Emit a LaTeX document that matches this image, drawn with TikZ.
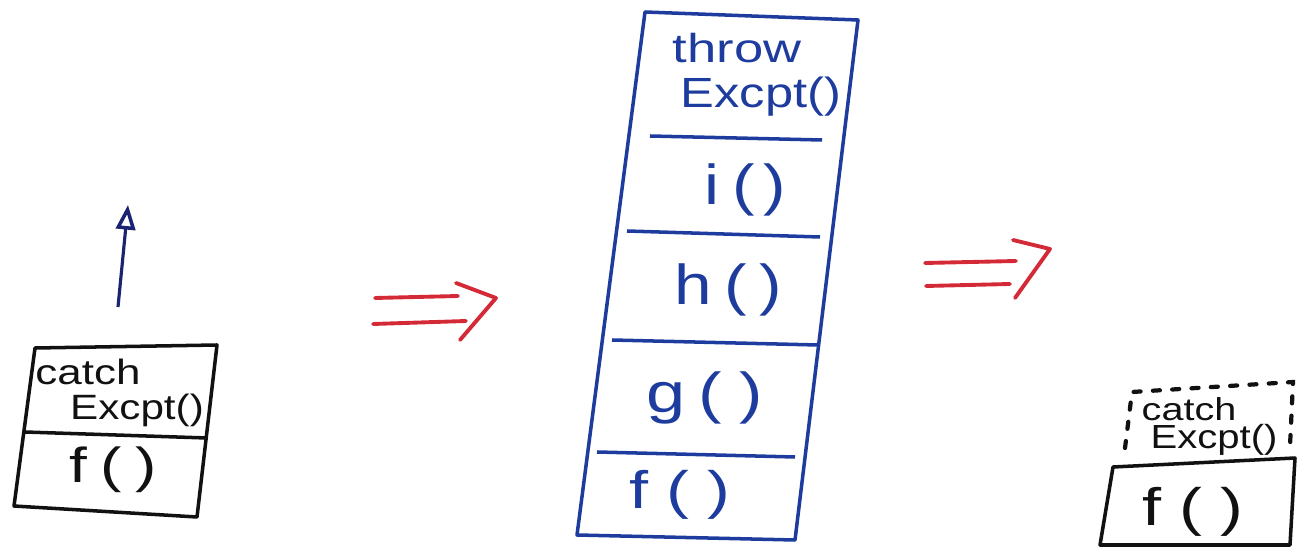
\documentclass[tikz,border=0pt]{standalone}
\usepackage{fontspec}
\setmainfont{Liberation Sans}
\usetikzlibrary{arrows.meta}
\definecolor{inkblue}{HTML}{1E3C9E}
\definecolor{inknavy}{HTML}{1B2470}
\definecolor{inkred}{HTML}{D42A38}
\definecolor{inkblack}{HTML}{111111}
\newcommand{\hwide}[2]{\scalebox{#1}[1]{#2}}
\tikzset{
  box/.style={line width=1pt, line join=round},
  txt/.style={inner sep=0pt},
  redarr/.style={inkred, line width=1.1pt, line cap=round, line join=round},
  upflow/.style={inknavy, line width=0.9pt, -{Triangle[open, length=7pt, width=5.5pt, line width=1pt]}},
  dots/.style={inkblack, line width=1.2pt, dash pattern=on 2pt off 3.5pt, line cap=round}
}
\begin{document}
\begin{tikzpicture}[x=0.01cm, y=-0.01cm]
\useasboundingbox (0,0) rectangle (1297,549);

% ---------- left: catch frame on f() ----------
\draw[box, inkblack] (35,348) -- (217,345) -- (197,517) -- (14,506) -- cycle;
\draw[box, inkblack] (25,432) -- (207,438);
\node[txt, inkblack, font=\fontsize{10}{12}\selectfont] (lcatch) at (88,372) {\hwide{1.25}{catch}};
\node[txt, inkblack, font=\fontsize{10}{12}\selectfont] (lexc) at (137,410) {\hwide{1.2}{Excpt()}};
\node[txt, inkblack, font=\fontsize{14}{16}\selectfont] (lf) at (113,470) {\hwide{1.3}{f\kern3pt(\kern3pt)}};
\coordinate (upstart) at (118,307);
\coordinate (upend) at (128,205);
\draw[upflow] (upstart) -- (upend);

% ---------- first red arrow ----------
\coordinate (a1u0) at (375,298); \coordinate (a1u1) at (458,296);
\coordinate (a1l0) at (373,324); \coordinate (a1l1) at (466,321);
\coordinate (a1t) at (456,283); \coordinate (a1p) at (496,298); \coordinate (a1b) at (460,340);
\draw[redarr] (a1u0) -- (a1u1);
\draw[redarr] (a1l0) -- (a1l1);
\draw[redarr] (a1t) -- (a1p) -- (a1b);

% ---------- middle: full stack ----------
\draw[box, inkblue] (645,12) -- (858,20) -- (795,540) -- (577,535) -- cycle;
\draw[box, inkblue] (650,136) -- (822,140);
\draw[box, inkblue] (627,231) -- (820,237);
\draw[box, inkblue] (612,340) -- (818,345);
\draw[box, inkblue] (597,452) -- (795,457);
\node[txt, inkblue, font=\fontsize{11.5}{14}\selectfont] (mthrow) at (737,48) {\hwide{1.3}{throw}};
\node[txt, inkblue, font=\fontsize{12}{14}\selectfont] (mexc) at (761,97) {\hwide{1.2}{Excpt()}};
\node[txt, inkblue, font=\fontsize{16}{19}\selectfont] (mi) at (745,190) {\hwide{1.2}{i\kern3pt(\kern2pt)}};
\node[txt, inkblue, font=\fontsize{16}{19}\selectfont] (mh) at (728,290) {\hwide{1.2}{h\kern3pt(\kern3pt)}};
\node[txt, inkblue, font=\fontsize{16}{19}\selectfont] (mg) at (705,398) {\hwide{1.25}{g\kern3pt(\kern4pt)}};
\node[txt, inkblue, font=\fontsize{15}{18}\selectfont] (mf) at (680,495) {\hwide{1.3}{f\kern4pt(\kern4pt)}};

% ---------- second red arrow ----------
\coordinate (a2u0) at (925,263); \coordinate (a2u1) at (1016,261);
\coordinate (a2l0) at (926,286); \coordinate (a2l1) at (1010,284);
\coordinate (a2t) at (1013,240); \coordinate (a2p) at (1050,249); \coordinate (a2b) at (1015,298);
\draw[redarr] (a2u0) -- (a2u1);
\draw[redarr] (a2l0) -- (a2l1);
\draw[redarr] (a2t) -- (a2p) -- (a2b);

% ---------- right: unwound to f() ----------
\draw[dots] (1125,448) -- (1132,392) -- (1293,382) -- (1290,446);
\node[txt, inkblack, font=\fontsize{9}{11}\selectfont] (rcatch) at (1189,409) {\hwide{1.25}{catch}};
\node[txt, inkblack, font=\fontsize{9.5}{11}\selectfont] (rexc) at (1214,440) {\hwide{1.2}{Excpt()}};
\draw[box, inkblack] (1113,467) -- (1295,458) -- (1290,545) -- (1100,545) -- cycle;
\node[txt, inkblack, font=\fontsize{15}{18}\selectfont] (rf) at (1193,512) {\hwide{1.3}{f\kern4pt(\kern4pt)}};
\end{tikzpicture}
\end{document}
